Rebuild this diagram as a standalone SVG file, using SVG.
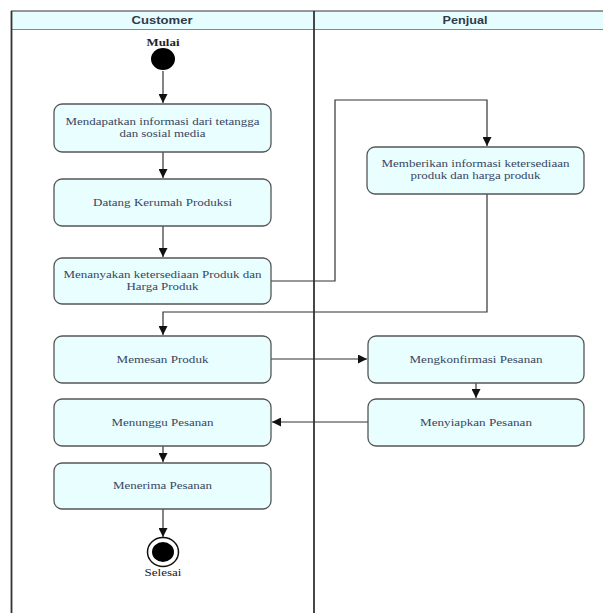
<svg xmlns="http://www.w3.org/2000/svg" width="603" height="613" viewBox="0 0 603 613">
<defs>
<marker id="ah" viewBox="0 0 10 10" refX="10" refY="5" markerWidth="9" markerHeight="9" markerUnits="userSpaceOnUse" orient="auto">
<path d="M0,0 L10,5 L0,10 z" fill="#111"/>
</marker>
<style>
.hdr{fill:#e6fdff;}
.hdrtxt{font-family:"Liberation Sans",Arial,sans-serif;font-weight:bold;font-size:11.5px;fill:#2f3a4a;text-anchor:middle;}
.box{fill:#e8feff;stroke:#555;stroke-width:1.3;}
.t{font-family:"Liberation Serif","Times New Roman",serif;font-size:11px;fill:#3a4560;text-anchor:middle;}
.c{fill:none;stroke:#333;stroke-width:1.2;marker-end:url(#ah);}
.lane{stroke:#333;stroke-width:1.8;}
.lbl{font-family:"Liberation Serif","Times New Roman",serif;font-size:11px;fill:#222;text-anchor:middle;}
</style>
</defs>
<rect width="603" height="613" fill="#fff"/>
<g id="lanes">
<rect class="hdr" x="11" y="11" width="592" height="18"/>
<line x1="11" y1="11" x2="603" y2="11" stroke="#333" stroke-width="1"/>
<line x1="11" y1="29.5" x2="603" y2="29.5" stroke="#888" stroke-width="1.2"/>
<line class="lane" x1="11.5" y1="11" x2="11.5" y2="613"/>
<line class="lane" x1="314" y1="11" x2="314" y2="613"/>
<text class="hdrtxt" x="162" y="24" textLength="61" lengthAdjust="spacingAndGlyphs">Customer</text>
<text class="hdrtxt" x="465" y="24" textLength="45" lengthAdjust="spacingAndGlyphs">Penjual</text>
</g>
<g id="connectors">
<path class="c" d="M163,71 V103"/>
<path class="c" d="M163,152 V178"/>
<path class="c" d="M163,226 V257"/>
<path class="c" d="M271,281 H335 V100 H487 V146"/>
<path class="c" d="M487,194 V312 H163 V335"/>
<path class="c" d="M271,359 H367"/>
<path class="c" d="M476,383 V398"/>
<path class="c" d="M368,422 H272"/>
<path class="c" d="M163,446 V462"/>
<path class="c" d="M163,509 V537"/>
</g>
<g id="start">
<text class="lbl" x="163" y="46" font-weight="bold" textLength="33" lengthAdjust="spacingAndGlyphs">Mulai</text>
<ellipse cx="163" cy="59" rx="12" ry="11" fill="#000"/>
</g>
<g id="n1">
<rect class="box" x="54" y="104" width="217" height="48" rx="8"/>
<text class="t" x="162.5" y="125" textLength="194" lengthAdjust="spacingAndGlyphs">Mendapatkan informasi dari tetangga</text>
<text class="t" x="162.5" y="137" textLength="86" lengthAdjust="spacingAndGlyphs">dan sosial media</text>
</g>
<g id="n2">
<rect class="box" x="54" y="179" width="217" height="47" rx="8"/>
<text class="t" x="162.5" y="206" textLength="139" lengthAdjust="spacingAndGlyphs">Datang Kerumah Produksi</text>
</g>
<g id="n3">
<rect class="box" x="54" y="258" width="217" height="46" rx="8"/>
<text class="t" x="162.5" y="278" textLength="198" lengthAdjust="spacingAndGlyphs">Menanyakan ketersediaan Produk dan</text>
<text class="t" x="162.5" y="290" textLength="72" lengthAdjust="spacingAndGlyphs">Harga Produk</text>
</g>
<g id="n4">
<rect class="box" x="367" y="147" width="217" height="47" rx="8"/>
<text class="t" x="475.5" y="167" textLength="188" lengthAdjust="spacingAndGlyphs">Memberikan informasi ketersediaan</text>
<text class="t" x="475.5" y="179" textLength="130" lengthAdjust="spacingAndGlyphs">produk dan harga produk</text>
</g>
<g id="n5">
<rect class="box" x="54" y="336" width="217" height="47" rx="8"/>
<text class="t" x="162.5" y="363" textLength="92" lengthAdjust="spacingAndGlyphs">Memesan Produk</text>
</g>
<g id="n6">
<rect class="box" x="368" y="336" width="216" height="47" rx="8"/>
<text class="t" x="476" y="363" textLength="133" lengthAdjust="spacingAndGlyphs">Mengkonfirmasi Pesanan</text>
</g>
<g id="n7">
<rect class="box" x="368" y="399" width="216" height="47" rx="8"/>
<text class="t" x="476" y="426" textLength="112" lengthAdjust="spacingAndGlyphs">Menyiapkan Pesanan</text>
</g>
<g id="n8">
<rect class="box" x="54" y="399" width="217" height="47" rx="8"/>
<text class="t" x="162.5" y="426" textLength="102" lengthAdjust="spacingAndGlyphs">Menunggu Pesanan</text>
</g>
<g id="n9">
<rect class="box" x="54" y="463" width="217" height="46" rx="8"/>
<text class="t" x="162.5" y="489" textLength="99" lengthAdjust="spacingAndGlyphs">Menerima Pesanan</text>
</g>
<g id="end">
<ellipse cx="163" cy="552" rx="15.5" ry="14.5" fill="#fff" stroke="#111" stroke-width="1.5"/>
<ellipse cx="163" cy="552" rx="11" ry="10" fill="#000"/>
<text class="lbl" x="163" y="576" fill="#444" textLength="37" lengthAdjust="spacingAndGlyphs">Selesai</text>
</g>
</svg>
